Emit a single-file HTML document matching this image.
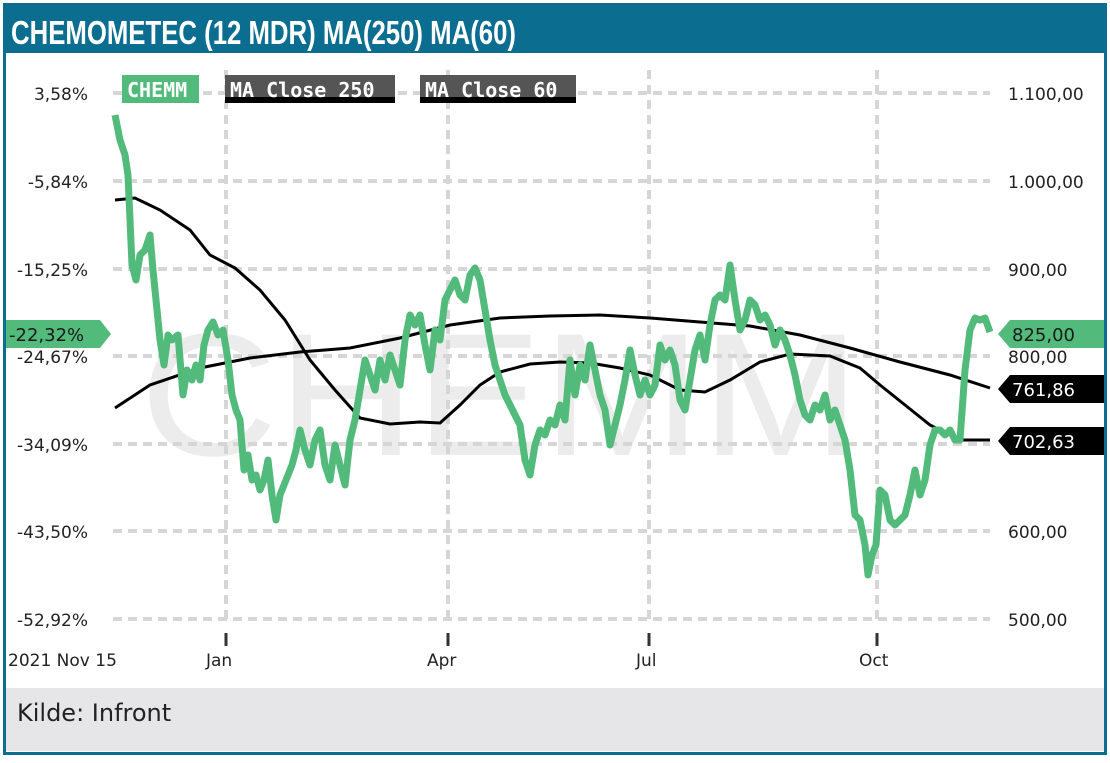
<!DOCTYPE html>
<html><head><meta charset="utf-8"><style>
body{margin:0;width:1110px;height:759px;background:#fff;overflow:hidden;font-family:"DejaVu Sans","Liberation Sans",sans-serif}
</style></head><body>
<svg width="1110" height="759" xmlns="http://www.w3.org/2000/svg" font-family="DejaVu Sans, Liberation Sans, sans-serif">
<rect x="4.5" y="4.5" width="1101" height="749" fill="#fff" stroke="#0b6d8f" stroke-width="3"/>
<rect x="3" y="3" width="1104" height="50" fill="#0b6d8f"/>
<text x="11" y="44" fill="#fff" font-family="Liberation Sans Narrow, Liberation Sans, sans-serif" font-weight="bold" font-size="33" textLength="505" lengthAdjust="spacingAndGlyphs">CHEMOMETEC (12 MDR) MA(250) MA(60)</text>
<rect x="6" y="688" width="1098" height="63" fill="#e6e6e8"/>
<text x="17" y="721" font-size="24" fill="#222">Kilde: Infront</text>
<text x="140" y="455" font-size="175" fill="#ececec" font-family="Liberation Sans, sans-serif" textLength="720" lengthAdjust="spacingAndGlyphs">CHEMM</text>
<g stroke="#d6d6d6" stroke-width="4" stroke-dasharray="9,6">
<line x1="113" y1="93" x2="990" y2="93"/><line x1="113" y1="181" x2="990" y2="181"/><line x1="113" y1="269" x2="990" y2="269"/><line x1="113" y1="356" x2="990" y2="356"/><line x1="113" y1="444" x2="990" y2="444"/><line x1="113" y1="531" x2="990" y2="531"/><line x1="113" y1="619" x2="990" y2="619"/>
<line x1="226" y1="70" x2="226" y2="625"/><line x1="448" y1="70" x2="448" y2="625"/><line x1="649" y1="70" x2="649" y2="625"/><line x1="877" y1="70" x2="877" y2="625"/>
</g>
<g stroke="#333" stroke-width="3"><line x1="226" y1="633" x2="226" y2="646"/><line x1="448" y1="633" x2="448" y2="646"/><line x1="649" y1="633" x2="649" y2="646"/><line x1="877" y1="633" x2="877" y2="646"/></g>
<g font-size="17" fill="#222">
<text x="8" y="666">2021 Nov 15</text><text x="206" y="666">Jan</text><text x="427" y="666">Apr</text><text x="636" y="666">Jul</text><text x="859" y="666">Oct</text>
<text x="88" y="100" text-anchor="end">3,58%</text><text x="88" y="188" text-anchor="end">-5,84%</text><text x="88" y="276" text-anchor="end">-15,25%</text><text x="88" y="363" text-anchor="end">-24,67%</text><text x="88" y="451" text-anchor="end">-34,09%</text><text x="88" y="538" text-anchor="end">-43,50%</text><text x="88" y="626" text-anchor="end">-52,92%</text>
<text x="1008" y="100">1.100,00</text><text x="1008" y="188">1.000,00</text><text x="1008" y="276">900,00</text><text x="1008" y="363">800,00</text><text x="1008" y="538">600,00</text><text x="1008" y="626">500,00</text>
</g>
<polyline fill="none" stroke="#000" stroke-width="3" points="115,408 150,385 200,368 250,358 300,352 350,348 400,338 450,325 500,318 550,316 600,315 650,318 700,322 750,326 800,335 850,348 900,362 950,375 990,388"/>
<polyline fill="none" stroke="#000" stroke-width="3" points="115,200 135,198 160,210 190,230 210,255 235,268 260,290 285,320 310,360 335,390 360,418 390,424 420,422 440,423 460,405 480,385 500,372 530,364 560,362 590,363 620,368 650,375 680,390 705,392 730,380 760,362 790,354 830,356 860,368 880,385 905,405 930,425 960,440 990,440"/>
<polyline fill="none" stroke="#52bb7b" stroke-width="7" stroke-linejoin="round" points="115,115 120,140 125,155 128,175 132,265 136,280 140,255 145,250 150,235 153,270 157,310 160,340 164,365 168,335 172,340 178,335 183,395 187,370 192,380 196,365 200,380 204,345 208,330 213,322 218,335 223,330 228,360 232,395 236,410 240,420 244,470 248,455 252,480 256,475 260,490 264,480 268,460 272,495 276,520 280,495 286,480 292,465 296,450 300,430 305,450 310,465 315,440 320,430 325,465 330,480 335,445 340,465 345,485 350,440 355,420 360,390 365,360 370,375 375,390 380,360 385,380 390,355 395,370 400,385 405,340 410,315 415,325 420,315 425,345 430,370 435,330 440,340 445,300 450,290 455,280 460,295 465,300 470,275 475,268 480,280 485,310 490,340 495,365 500,380 505,395 510,405 515,415 520,425 525,460 530,475 535,445 540,430 545,435 550,420 555,425 560,405 565,420 570,360 575,395 580,365 585,380 590,345 595,370 600,395 605,410 610,445 615,425 620,405 625,380 630,350 635,375 640,395 645,380 650,395 655,385 660,345 665,360 670,350 675,365 680,400 685,410 690,380 695,350 700,335 705,360 710,325 715,300 720,295 725,300 730,265 735,300 740,330 745,320 750,300 755,305 760,320 765,315 770,325 775,345 780,330 785,340 790,355 795,375 800,400 805,415 810,420 815,405 820,410 825,395 830,420 835,410 840,425 845,440 850,470 855,515 860,520 865,545 868,575 872,555 876,545 880,490 885,495 890,520 895,525 900,520 905,515 910,495 915,470 920,495 925,480 930,445 935,430 940,430 945,435 950,430 955,440 960,440 965,370 970,330 975,318 980,320 985,318 990,332"/>
<g font-family="DejaVu Sans Mono, Liberation Mono, monospace" font-weight="bold" font-size="20">
<rect x="122" y="75" width="77" height="28" fill="#52bb7b"/><svg x="122" y="75" width="77" height="28"><text x="5" y="22" fill="#fff">CHEMM</text></svg>
<rect x="225" y="75" width="170" height="28" fill="#555"/><rect x="225" y="97" width="170" height="6" fill="#000"/>
<svg x="225" y="75" width="170" height="28"><text x="5" y="22" fill="#fff">MA Close 250</text></svg>
<rect x="420" y="75" width="156" height="28" fill="#555"/><rect x="420" y="97" width="156" height="6" fill="#000"/>
<svg x="420" y="75" width="156" height="28"><text x="5" y="22" fill="#fff">MA Close 60</text></svg>
</g>
<polygon points="6,320 100,320 111,334 100,348 6,348" fill="#52bb7b"/>
<text x="9" y="341" font-size="18" fill="#1a1a1a">-22,32%</text>
<polygon points="1010,320 1104,320 1104,348 1010,348 998,334" fill="#52bb7b"/>
<text x="1012" y="341" font-size="18" fill="#1a1a1a">825,00</text>
<polygon points="1010,375 1104,375 1104,403 1010,403 998,389" fill="#000"/>
<text x="1012" y="396" font-size="18" fill="#fff">761,86</text>
<polygon points="1010,427 1104,427 1104,455 1010,455 998,441" fill="#000"/>
<text x="1012" y="448" font-size="18" fill="#fff">702,63</text>
</svg>
</body></html>
